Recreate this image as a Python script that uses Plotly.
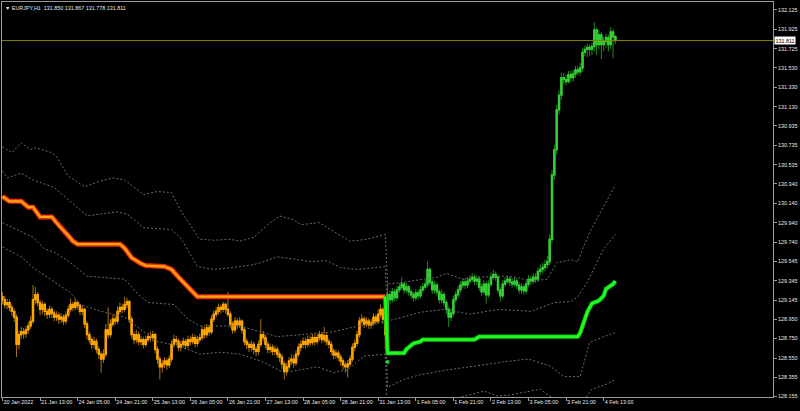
import plotly.graph_objects as go

# ---------------- data (EURJPY, H1) ----------------
open_first = 129.18

# bars 0..163 (down-trend regime, orange candles)
close_down = [
    129.15,129.10,129.12,129.07,129.03,128.97,128.69,128.79,128.82,128.80,
    128.84,128.88,128.93,129.15,129.20,129.12,129.05,129.10,129.03,129.00,
    129.05,129.01,128.97,128.99,128.95,128.97,128.93,128.99,129.05,129.10,
    129.07,129.12,129.09,129.03,129.05,128.90,128.79,128.74,128.69,128.72,
    128.64,128.59,128.54,128.59,128.84,128.79,128.90,128.95,128.93,129.03,
    129.07,129.05,129.10,129.13,128.95,128.79,128.74,128.79,128.72,128.74,
    128.69,128.74,128.77,128.76,128.79,128.64,128.54,128.46,128.49,128.52,
    128.48,128.54,128.69,128.74,128.72,128.66,128.69,128.72,128.68,128.74,
    128.72,128.76,128.70,128.74,128.76,128.84,128.79,128.86,128.82,128.95,
    129.00,129.03,129.07,129.05,129.10,129.05,129.00,128.90,128.84,128.93,
    128.89,128.93,128.84,128.72,128.69,128.66,128.69,128.64,128.62,128.69,
    128.79,128.76,128.69,128.64,128.66,128.62,128.64,128.59,128.56,128.49,
    128.41,128.46,128.52,128.54,128.50,128.59,128.66,128.69,128.72,128.69,
    128.74,128.71,128.76,128.72,128.76,128.79,128.74,128.78,128.72,128.69,
    128.62,128.58,128.60,128.56,128.52,128.48,128.46,128.49,128.54,128.66,
    128.70,128.79,128.93,128.95,128.90,128.93,128.89,128.91,128.97,128.93,
    129.00,129.05,128.95,128.79]
high_down = [
    129.23,129.19,129.16,129.15,129.10,129.06,129.00,128.83,128.87,128.86,
    128.88,128.92,128.98,129.30,129.28,129.23,129.15,129.14,129.12,129.06,
    129.09,129.08,129.04,129.03,129.02,129.01,129.00,129.03,129.09,129.16,
    129.13,129.16,129.14,129.11,129.09,129.07,128.93,128.82,128.77,128.77,
    128.75,128.67,128.62,128.64,128.90,129.07,128.95,129.00,128.99,129.08,
    129.12,129.11,129.18,129.17,129.15,128.98,128.82,128.84,128.82,128.78,
    128.77,128.78,128.81,128.82,128.83,128.81,128.67,128.57,128.53,128.56,
    128.55,128.58,128.73,128.79,128.78,128.75,128.73,128.76,128.75,128.78,
    128.78,128.80,128.79,128.78,128.80,128.88,128.87,128.90,128.89,128.99,
    129.04,129.07,129.11,129.10,129.13,129.12,129.23,129.03,128.93,128.97,
    128.96,128.97,128.95,128.86,128.75,128.72,128.73,128.72,128.67,128.73,
    128.95,128.83,128.79,128.72,128.70,128.69,128.68,128.67,128.62,128.59,
    128.52,128.50,128.56,128.59,128.58,128.63,128.70,128.73,128.76,128.76,
    128.78,128.78,128.80,128.79,128.80,128.83,128.82,128.87,128.81,128.75,
    128.72,128.65,128.64,128.63,128.59,128.55,128.51,128.53,128.58,128.70,
    128.74,128.83,128.97,129.00,128.98,128.97,128.96,128.95,129.01,129.00,
    129.05,129.10,129.07,128.97]
low_down = [
    129.10,129.06,129.05,129.03,128.98,128.92,128.56,128.64,128.75,128.75,
    128.76,128.80,128.85,128.90,129.10,129.08,128.99,129.00,128.98,128.95,
    128.96,128.96,128.93,128.93,128.90,128.91,128.89,128.90,128.96,129.02,
    129.03,129.04,129.05,128.99,128.99,128.86,128.74,128.70,128.64,128.65,
    128.60,128.54,128.40,128.50,128.56,128.75,128.76,128.87,128.89,128.90,
    129.00,129.01,129.02,129.06,128.91,128.75,128.69,128.70,128.68,128.68,
    128.65,128.66,128.71,128.72,128.72,128.60,128.49,128.33,128.40,128.45,
    128.43,128.45,128.51,128.66,128.68,128.62,128.62,128.66,128.64,128.65,
    128.68,128.69,128.66,128.67,128.71,128.73,128.75,128.76,128.78,128.79,
    128.92,128.97,129.00,129.01,129.02,129.01,128.97,128.86,128.80,128.81,
    128.85,128.86,128.80,128.68,128.64,128.61,128.62,128.59,128.57,128.58,
    128.66,128.72,128.65,128.60,128.60,128.58,128.58,128.55,128.51,128.44,
    128.33,128.37,128.42,128.48,128.45,128.47,128.56,128.62,128.65,128.65,
    128.66,128.67,128.68,128.68,128.69,128.73,128.70,128.71,128.68,128.65,
    128.58,128.54,128.54,128.52,128.47,128.43,128.40,128.35,128.46,128.51,
    128.62,128.67,128.76,128.90,128.86,128.87,128.85,128.85,128.88,128.89,
    128.90,128.97,128.90,128.64]

# bars 164..261 (up-trend regime, green candles)
close_up = [
    129.20,129.15,129.23,129.17,129.25,129.28,129.31,129.25,129.28,129.23,
    129.20,129.17,129.22,129.19,129.25,129.28,129.31,129.46,129.33,129.25,
    129.30,129.23,129.15,129.20,129.12,129.05,128.97,129.01,129.15,129.20,
    129.25,129.30,129.33,129.30,129.34,129.36,129.38,129.34,129.36,129.28,
    129.23,129.31,129.20,129.31,129.38,129.41,129.38,129.25,129.19,129.31,
    129.34,129.36,129.33,129.31,129.34,129.30,129.25,129.28,129.24,129.31,
    129.36,129.34,129.38,129.36,129.44,129.46,129.48,129.51,129.54,129.77,
    130.43,130.69,131.10,131.25,131.43,131.41,131.39,131.46,131.43,131.47,
    131.51,131.49,131.53,131.69,131.72,131.74,131.72,131.75,131.92,131.77,
    131.87,131.77,131.80,131.84,131.77,131.90,131.850,131.811]
high_up = [
    129.31,129.24,129.27,129.26,129.29,129.32,129.38,129.33,129.32,129.30,
    129.26,129.23,129.26,129.25,129.29,129.32,129.35,129.54,129.48,129.36,
    129.34,129.33,129.26,129.25,129.23,129.15,129.08,129.06,129.19,129.24,
    129.29,129.34,129.37,129.37,129.38,129.40,129.42,129.41,129.40,129.39,
    129.31,129.35,129.34,129.35,129.43,129.46,129.44,129.40,129.28,129.35,
    129.38,129.40,129.39,129.37,129.38,129.37,129.33,129.32,129.31,129.35,
    129.40,129.40,129.42,129.42,129.48,129.51,129.53,129.56,129.60,129.82,
    130.48,130.74,131.15,131.30,131.48,131.48,131.46,131.50,131.50,131.51,
    131.55,131.55,131.58,131.73,131.76,131.78,131.77,131.79,132.00,131.94,
    131.92,131.90,131.85,131.88,131.87,131.95,131.93,131.867]
low_up = [
    128.75,129.10,129.12,129.13,129.14,129.22,129.25,129.21,129.22,129.19,
    129.16,129.13,129.14,129.15,129.16,129.22,129.25,129.28,129.29,129.21,
    129.21,129.19,129.11,129.11,129.08,129.00,128.87,128.93,128.98,129.12,
    129.17,129.22,129.27,129.26,129.27,129.31,129.33,129.30,129.30,129.24,
    129.19,129.20,129.11,129.17,129.28,129.35,129.34,129.21,129.13,129.16,
    129.28,129.31,129.29,129.27,129.28,129.26,129.21,129.21,129.20,129.21,
    129.28,129.30,129.31,129.32,129.33,129.40,129.42,129.44,129.47,129.50,
    129.73,130.38,130.64,131.05,131.20,131.36,131.35,131.37,131.39,131.39,
    131.43,131.45,131.45,131.49,131.65,131.64,131.65,131.66,131.70,131.66,
    131.72,131.62,131.70,131.74,131.70,131.72,131.63,131.778]

# trend stop lines (bar index, price)
down_line_x = [0,3,8,11,13,16,21,24,28,30,32,50,52,55,59,61,69,72,75,79,83,163]
down_line_y = [130.21,130.16,130.16,130.10,130.10,130.00,130.00,129.91,129.81,129.75,
               129.72,129.72,129.68,129.58,129.52,129.50,129.49,129.46,129.38,129.28,
               129.18,129.18]
up_line_x = [163,164,171,172,175,178,179,201,203,245,246,249,251,254,256,257,260,261]
up_line_y = [129.18,128.60,128.60,128.64,128.70,128.72,128.74,128.74,128.77,128.77,
             128.81,129.02,129.11,129.14,129.19,129.26,129.31,129.34]

# dotted bands
band1_x = [0,4,8,12,14,21,23,28,35,42,47,52,60,66,72,76,84,90,97,101,107,113,118,124,127,
           135,141,148,155,163,164,171,185,189,196,202,213,219,225,232,236,242,245,247,250,256,261]
band1_y = [130.72,130.66,130.76,130.69,130.71,130.66,130.62,130.42,130.31,130.37,
           130.40,130.38,130.23,130.26,130.25,130.06,129.77,129.76,129.77,129.75,
           129.79,129.92,130.01,129.97,129.92,129.94,129.85,129.75,129.77,129.82,
           129.31,129.33,129.38,129.42,129.36,129.38,129.39,129.38,129.34,129.36,
           129.53,129.56,129.54,129.67,129.84,130.11,130.33]
band2_x = [0,2,8,13,21,22,28,36,45,49,53,60,72,76,83,90,98,107,110,117,126,131,138,144,151,163,
           164,178,188,199,211,225,235,242,245,249,256,261]
band2_y = [130.47,130.40,130.45,130.38,130.31,130.30,130.18,130.01,130.04,130.05,
           130.03,129.89,129.87,129.78,129.49,129.46,129.48,129.51,129.53,129.59,
           129.56,129.54,129.55,129.48,129.46,129.49,
           128.93,129.02,129.05,129.00,129.05,129.03,129.12,129.13,129.18,129.33,129.67,129.82]
band3_x = [0,13,18,22,29,36,42,52,58,62,73,79,84,101,117,127,141,148,163,
           164,171,178,190,202,213,224,233,239,246,250,256,261]
band3_y = [129.94,129.79,129.67,129.64,129.53,129.39,129.38,129.36,129.20,129.12,
           129.10,128.95,128.88,128.88,128.77,128.79,128.82,128.86,128.93,
           128.25,128.33,128.38,128.43,128.47,128.51,128.54,128.47,128.36,128.36,
           128.71,128.77,128.81]
band4_x = [0,8,13,22,29,33,42,52,59,66,74,80,84,93,101,110,120,127,134,141,147,154,163,
           164,195,205,211,216,224,229,233,240,248,251,257,261]
band4_y = [129.69,129.59,129.48,129.33,129.22,129.10,129.03,128.97,128.84,128.72,
           128.68,128.63,128.59,128.61,128.59,128.52,128.40,128.43,128.46,128.40,
           128.43,128.57,128.59,
           127.92,128.15,128.21,128.16,128.17,128.21,128.23,128.16,128.08,128.13,
           128.23,128.28,128.33]

signal_x = [164]
signal_y = [128.51]

bid_price = 131.811
title_text = "EURJPY,H1\u00a0\u00a0131.850 131.867 131.778 131.811"

x_tick_bars = [0,16,32,48,64,80,96,112,128,144,160,176,192,208,224,240,256]
x_tick_labels = ["20 Jan 2022","21 Jan 13:00","24 Jan 05:00","24 Jan 21:00","25 Jan 13:00",
                 "26 Jan 05:00","26 Jan 21:00","27 Jan 13:00","28 Jan 05:00","28 Jan 21:00",
                 "31 Jan 13:00","1 Feb 05:00","1 Feb 21:00","2 Feb 13:00","3 Feb 05:00",
                 "3 Feb 21:00","4 Feb 13:00"]
y_tick_vals = [132.125,131.925,131.725,131.530,131.330,131.130,130.935,130.735,130.535,
               130.340,130.140,129.940,129.740,129.545,129.345,129.145,128.950,128.750,
               128.550,128.355,128.155]

# ---------------- build ----------------
closes = close_down + close_up
opens = [open_first] + closes[:-1]
highs = high_down + high_up
lows = low_down + low_up
n_down = len(close_down)
xs = list(range(len(closes)))

FONT = "Liberation Sans, Arial, sans-serif"
FS = 5.4

fig = go.Figure()

band_style = dict(color="#6c6c6c", width=1, dash="2px,2px")
for bx, by in [(band1_x, band1_y), (band2_x, band2_y), (band3_x, band3_y), (band4_x, band4_y)]:
    fig.add_trace(go.Scatter(x=bx, y=by, mode="lines", line=band_style,
                             hoverinfo="skip", showlegend=False))


def candles(sl, wick_col, body_col):
    o = opens[sl]; c = closes[sl]; h = highs[sl]; l = lows[sl]; x = xs[sl]
    bt = [max(a, b) for a, b in zip(o, c)]
    bb = [min(a, b) for a, b in zip(o, c)]
    for hh, ll, col, w in [(h, l, wick_col, 1), (bt, bb, body_col, 1.3)]:
        fig.add_trace(go.Candlestick(
            x=x, open=o, high=hh, low=ll, close=c, whiskerwidth=0,
            increasing=dict(line=dict(color=col, width=w), fillcolor=col),
            decreasing=dict(line=dict(color=col, width=w), fillcolor=col),
            hoverinfo="skip", showlegend=False))


candles(slice(0, n_down), "#a8740e", "#ffa500")
candles(slice(n_down, len(closes)), "#1e8a1e", "#35cd35")

# down trend line (red edge, orange core)
fig.add_trace(go.Scatter(x=down_line_x, y=down_line_y, mode="lines",
                         line=dict(color="#ee2a1e", width=5), hoverinfo="skip", showlegend=False))
fig.add_trace(go.Scatter(x=down_line_x, y=down_line_y, mode="lines",
                         line=dict(color="#ffa800", width=2.2), hoverinfo="skip", showlegend=False))
# up trend line
fig.add_trace(go.Scatter(x=up_line_x, y=up_line_y, mode="lines",
                         line=dict(color="#10c810", width=4.3), hoverinfo="skip", showlegend=False))
fig.add_trace(go.Scatter(x=up_line_x, y=up_line_y, mode="lines",
                         line=dict(color="#22ff22", width=2.3), hoverinfo="skip", showlegend=False))
# signal dot
fig.add_trace(go.Scatter(x=signal_x, y=signal_y, mode="markers",
                         marker=dict(color="#22cc22", size=4), hoverinfo="skip", showlegend=False))

# bid line
fig.add_shape(type="line", xref="paper", x0=0, x1=1, yref="y", y0=bid_price, y1=bid_price,
              line=dict(color="#858500", width=1))
fig.add_annotation(xref="paper", x=1, xanchor="left", xshift=1, yref="y", y=bid_price,
                   text=f"{bid_price:.3f}", showarrow=False, bgcolor="#ffffff",
                   font=dict(family=FONT, size=FS, color="#000000"), borderpad=0.5)
# title
fig.add_annotation(xref="paper", x=0, xanchor="left", xshift=1, yref="paper", y=1,
                   yanchor="top", yshift=-1, text="\u25bc " + title_text, showarrow=False,
                   font=dict(family=FONT, size=FS, color="#e8e8e8"))

axis_common = dict(showgrid=False, zeroline=False, showline=True, linecolor="#9a9a9a",
                   linewidth=1, mirror=True, ticks="outside", ticklen=3, tickcolor="#9a9a9a",
                   tickfont=dict(family=FONT, size=FS, color="#e8e8e8"))

fig.update_layout(
    width=800, height=411,
    margin=dict(l=2, r=27, t=2, b=14, autoexpand=False),
    paper_bgcolor="#000000", plot_bgcolor="#000000",
    showlegend=False,
    xaxis=dict(range=[-0.2, 328.1], tickmode="array", tickvals=x_tick_bars,
               ticktext=x_tick_labels, ticklabelposition="outside right", tickangle=0,
               automargin=False, rangeslider=dict(visible=False), **axis_common),
    yaxis=dict(range=[128.150, 132.207], side="right", tickmode="array",
               tickvals=y_tick_vals, ticktext=[f"{v:.3f}" for v in y_tick_vals],
               automargin=False, **axis_common),
)

fig.write_html("out.html", config={"displayModeBar": False},
               post_script="document.body.style.margin='0';document.body.style.background='#000';")
